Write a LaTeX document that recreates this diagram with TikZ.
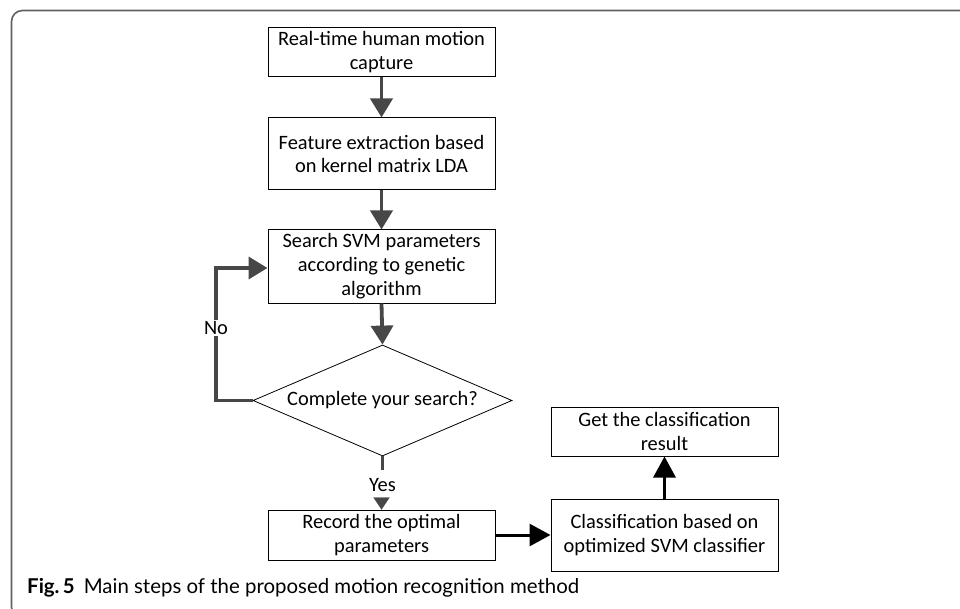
\documentclass[tikz,border=0pt]{standalone}
\usepackage{fontspec}
\setmainfont{Carlito}
\newfontfamily\capfont{Lato}
\usetikzlibrary{arrows.meta,shapes.geometric}
\begin{document}
\begin{tikzpicture}[x=1bp,y=-1bp,
  stepbox/.style={draw=black,line width=1bp,minimum width=227bp,align=center,font=\fontsize{20.5}{24}\selectfont,inner sep=2bp},
  decision/.style={draw=black,line width=0.8bp,diamond,aspect=2.33,minimum width=259bp,minimum height=111bp,inner sep=0pt,font=\fontsize{20.5}{24}\selectfont},
  grayarrow/.style={draw=black!72,line width=3.8bp,-{Triangle[length=19bp,width=22bp]}},
  blackarrow/.style={draw=black,line width=3bp,-{Triangle[length=21bp,width=22bp]}},
  lbl/.style={font=\fontsize{20.5}{24}\selectfont,fill=white,inner sep=1bp}]
\useasboundingbox (0,0) rectangle (960,609);
\clip (0,0) rectangle (960,609);
% frame
\draw[black!62,line width=1.6bp,rounded corners=11bp] (975,10.5) -- (11.5,10.5) -- (11.5,618) -- (975,618);
% boxes
\node[stepbox,minimum height=49bp] (b1) at (381.5,52.5) {Real-time human motion\\capture};
\node[stepbox,minimum height=72bp] (b2) at (381.5,154) {Feature extraction based\\on kernel matrix LDA};
\node[stepbox,minimum height=73bp] (b3) at (381.5,266.5) {Search SVM parameters\\according to genetic\\algorithm};
\node[decision] (d) at (382.5,400.5) {Complete your search?};
\node[stepbox,minimum height=50bp] (b4) at (381.5,535) {Record the optimal\\parameters};
\node[stepbox,minimum height=72bp] (b5) at (664.5,535) {Classification based on\\optimized SVM classifier};
\node[stepbox,minimum height=49bp] (b6) at (664.5,431.5) {Get the classification\\result};
% arrows
\draw[grayarrow] (b1.south) -- (b2.north);
\draw[grayarrow] (b2.south) -- (b3.north);
\draw[grayarrow] (b3.south) -- (d.north);
\coordinate (nl) at (216,400.5);
\coordinate (nu) at (216,268);
\draw[grayarrow] (d.west) -- (nl) -- (nu) -- (b3.west |- nu);
\node[lbl] (no) at (216,328) {No};
\draw[draw=black!72,line width=3.5bp] (d.south) -- ++(0,14);
\node[font=\fontsize{20.5}{24}\selectfont,inner sep=1bp] (yes) at (382.5,485) {Yes};
\draw[draw=black!72,line width=0.1bp,fill=black!72] (b4.north) -- ++(-8,-12) -- ++(16,0) -- cycle;
\draw[blackarrow] (b4.east) -- (b5.west);
\draw[blackarrow] (b5.north) -- (b6.south);
% caption
\node[anchor=base west,inner sep=0pt,font=\capfont\fontsize{20.5}{22}\selectfont] (cap) at (27,593) {\textbf{Fig.\,5}\hspace{9bp}Main steps of the proposed motion recognition method};
\end{tikzpicture}
\end{document}
